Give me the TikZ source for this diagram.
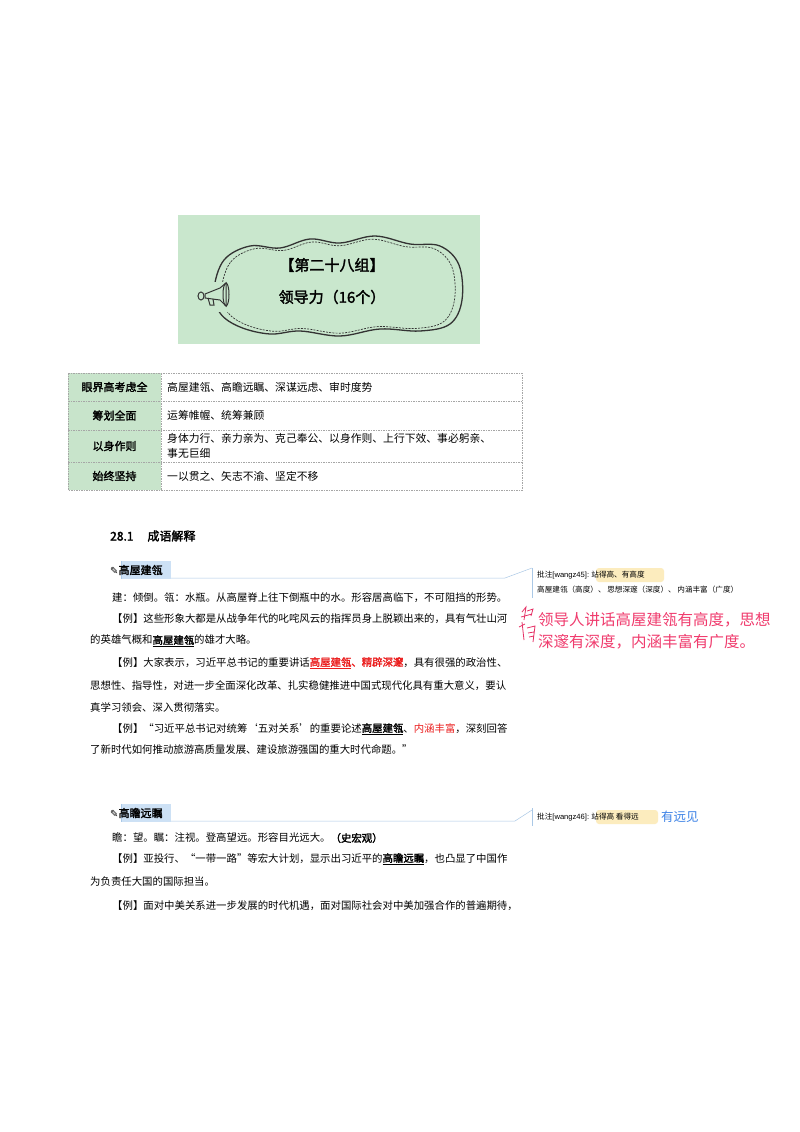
\documentclass[tikz,border=0pt]{standalone}
\usepackage{fontspec}
\setmainfont{Noto Sans CJK SC}
\newfontfamily\cjkb{Noto Sans CJK SC}[FakeBold=2]
\newfontfamily\symf{DejaVu Sans}
\newfontfamily\latf{Liberation Sans}
\definecolor{boxgreen}{RGB}{201,231,205}
\definecolor{cellgreen}{RGB}{200,228,203}
\definecolor{redtxt}{RGB}{235,30,30}
\definecolor{pinktxt}{RGB}{240,60,110}
\definecolor{hlblue}{RGB}{205,225,245}
\definecolor{hlyel}{RGB}{252,236,190}
\definecolor{cmline}{RGB}{170,200,230}
\definecolor{bluetxt}{RGB}{60,130,230}
\newcommand{\cloudpts}{(214,290) (224,260) (250,246) (280,248) (310,239) (340,243) (375,236) (410,244) (440,246) (459,265) (462,300) (450,324) (420,331) (380,329) (340,336) (300,331) (270,334) (240,327) (220,313)}
\begin{document}
\begin{tikzpicture}[x=1pt,y=-1pt,
  body/.style={anchor=west,inner sep=0pt,font=\fontsize{10.4}{12}\selectfont},
  cell/.style={anchor=west,inner sep=0pt,font=\fontsize{10.8}{15}\selectfont,align=left},
  head/.style={inner sep=0pt,font=\cjkb\fontsize{11}{13}\selectfont},
  cmt/.style={anchor=west,inner sep=0pt,font=\fontsize{7.6}{9}\selectfont},
  pk/.style={anchor=west,inner sep=0pt,font=\fontsize{15.5}{18}\selectfont,text=pinktxt},
  tline/.style={draw=gray!70,dash pattern=on 1.5pt off 1pt,line width=0.6pt}]
\useasboundingbox (0,0) rectangle (800,1132);
\fill[white] (0,0) rectangle (800,1132);
% title box
\fill[boxgreen] (178,215) rectangle (480,344);
\draw[gray!40!black,line width=1.3pt] plot[smooth cycle,tension=0.6] coordinates {\cloudpts};
\draw[gray!40!black,line width=0.7pt,dash pattern=on 2pt off 1.2pt,scale around={0.94:(338,289)}] plot[smooth cycle,tension=0.6] coordinates {\cloudpts};
% megaphone
\fill[boxgreen] (198,282) rectangle (228,312);
\draw[gray!40!black,line width=1pt,fill=boxgreen] (205,294) -- (220,288) -- (226,283) -- (226,306) -- (220,300) -- (205,298) -- cycle;
\draw[gray!40!black,line width=1pt] (201,296) ellipse (3 and 4);
\draw[gray!40!black,line width=1pt] (226,294.5) ellipse (3 and 11.5);
\draw[gray!40!black,line width=1pt] (208,298) -- (210,305) -- (214,305) -- (213,299);
\node[head,font=\cjkb\fontsize{15}{17}\selectfont] (t1) at (332,265) {【第二十八组】};
\node[head,font=\cjkb\fontsize{15}{17}\selectfont] (t2) at (332,297) {领导力（16个）};
% table
\fill[cellgreen] (68,373) rectangle (161,490);
\draw[tline] (68,373) rectangle (522,490);
\foreach \yy in {401,430,462}{\draw[tline] (68,\yy) -- (522,\yy);}
\draw[tline] (161,373) -- (161,490);
\node[head] (h1) at (114.5,387) {眼界高考虑全};
\node[head] (h2) at (114.5,415.5) {筹划全面};
\node[head] (h3) at (114.5,446) {以身作则};
\node[head] (h4) at (114.5,476) {始终坚持};
\node[cell] (c1) at (167,387) {高屋建瓴、高瞻远瞩、深谋远虑、审时度势};
\node[cell] (c2) at (167,415.5) {运筹帷幄、统筹兼顾};
\node[cell] (c3) at (167,446) {身体力行、亲力亲为、克己奉公、以身作则、上行下效、事必躬亲、\\事无巨细};
\node[cell] (c4) at (167,476) {一以贯之、矢志不渝、坚定不移};
% section
\node[anchor=west,inner sep=0pt,font=\cjkb\fontsize{12}{14}\selectfont] (sec) at (110,536) {28.1\hspace{14pt}成语解释};
% entry 1
\fill[hlblue] (121,561) rectangle (171,579);
\draw[cmline,line width=0.5pt] (121,561) -- (121,579);
\node[anchor=west,inner sep=0pt,font=\fontsize{11}{13}\selectfont] (e1) at (110,570) {{\symf\fontsize{10}{12}\selectfont ✎}\cjkb 高屋建瓴};
\coordinate (a1) at (171,578);
\coordinate (b1) at (505,578);
\coordinate (d1) at (532,568);
\draw[cmline,line width=0.5pt] (a1) -- (b1) -- (d1);
\draw[cmline,line width=0.6pt] (532,568) -- (532,598);
\fill[hlyel,rounded corners=3pt] (596,568) rectangle (664,582);
\node[cmt] (k1) at (537,575) {批注{\latf [wangz45]:} 站得高、有高度};
\node[cmt] (k2) at (537,590) {高屋建瓴（高度）、 思想深邃（深度）、 内涵丰富（广度）};
% handwriting
\draw[pinktxt!80!purple,line width=0.8pt] (522,612) -- (526,607) -- (524,620) (527,611) -- (533,609) -- (531,616) (521,617) -- (532,614)
  (519,627) -- (525,624) (522,622) -- (524,640) (527,628) -- (535,626) -- (533,642) (528,633) -- (534,632) (529,637) -- (534,636);
\node[pk] (p1) at (538,620) {领导人讲话高屋建瓴有高度，思想};
\node[pk] (p2) at (538,642) {深邃有深度，内涵丰富有广度。};
% body 1
\node[body] (l1) at (112,598) {建：倾倒。瓴：水瓶。从高屋脊上往下倒瓶中的水。形容居高临下，不可阻挡的形势。};
\node[body] (l2) at (112,619) {【例】这些形象大都是从战争年代的叱咤风云的指挥员身上脱颖出来的，具有气壮山河};
\node[body] (l3) at (90,641) {的英雄气概和{\cjkb\underline{高屋建瓴}}的雄才大略。};
\node[body] (l4) at (112,663) {【例】大家表示，习近平总书记的重要讲话{\color{redtxt}\cjkb\underline{高屋建瓴}、精辟深邃}，具有很强的政治性、};
\node[body] (l5) at (90,686) {思想性、指导性，对进一步全面深化改革、扎实稳健推进中国式现代化具有重大意义，要认};
\node[body] (l6) at (90,708) {真学习领会、深入贯彻落实。};
\node[body] (l7) at (112,729) {【例】“习近平总书记对统筹‘五对关系’的重要论述{\cjkb\underline{高屋建瓴}}、{\color{redtxt}内涵丰富}，深刻回答};
\node[body] (l8) at (90,750) {了新时代如何推动旅游高质量发展、建设旅游强国的重大时代命题。”};
% entry 2
\fill[hlblue] (121,804) rectangle (171,822);
\draw[cmline,line width=0.5pt] (121,804) -- (121,822);
\node[anchor=west,inner sep=0pt,font=\fontsize{11}{13}\selectfont] (e2) at (110,813) {{\symf\fontsize{10}{12}\selectfont ✎}\cjkb 高瞻远瞩};
\coordinate (a2) at (171,821);
\coordinate (b2) at (515,821);
\coordinate (d2) at (532,810);
\draw[cmline,line width=0.5pt] (a2) -- (b2) -- (d2);
\draw[cmline,line width=0.6pt] (532,808) -- (532,826);
\fill[hlyel,rounded corners=3pt] (596,810) rectangle (658,824);
\node[cmt] (k3) at (537,817) {批注{\latf [wangz46]:} 站得高\ 看得远};
\node[anchor=west,inner sep=0pt,font=\fontsize{12.5}{14}\selectfont,text=bluetxt] (k4) at (661,817) {有远见};
\node[body] (m1) at (112,838) {瞻：望。瞩：注视。登高望远。形容目光远大。{\cjkb（史宏观）}};
\node[body] (m2) at (112,859) {【例】亚投行、“一带一路”等宏大计划，显示出习近平的{\cjkb\underline{高瞻远瞩}}，也凸显了中国作};
\node[body] (m3) at (90,882) {为负责任大国的国际担当。};
\node[body] (m4) at (112,906) {【例】面对中美关系进一步发展的时代机遇，面对国际社会对中美加强合作的普遍期待，};
\end{tikzpicture}
\end{document}
